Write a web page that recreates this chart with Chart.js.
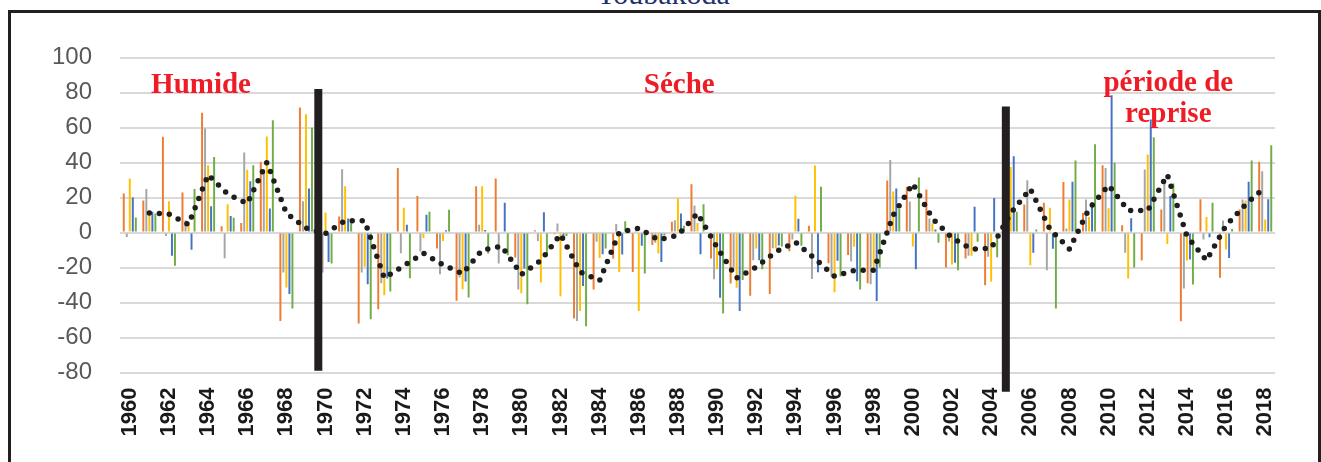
<!DOCTYPE html>
<html>
<head>
<meta charset="utf-8">
<script src="https://cdn.jsdelivr.net/npm/chart.js@4.4.0/dist/chart.umd.min.js"></script>
<style>
  html, body { margin: 0; padding: 0; background: #fff; overflow: hidden; }
  body { width: 1321px; height: 462px; position: relative; }
  #frame { position: absolute; left: 8px; top: 10px; width: 1307px; height: 520px; border: 3px solid #231f20; }
  #title { position: absolute; left: 3px; width: 1321px; top: -21px; text-align: center;
           font: 30px 'Liberation Serif', serif; line-height: 30px; color: #1f3070; }
  #wrap { position: absolute; left: 0; top: 0; width: 1321px; height: 462px; }
</style>
</head>
<body>
<div id="frame"></div>
<div id="title">Toubakoda</div>
<div id="wrap"><canvas id="chart" width="1321" height="462"></canvas></div>
<script>
// ── data ─────────────────────────────────────────────────────────────────────
const years = ["1960","1961","1962","1963","1964","1965","1966","1967","1968","1969",
               "1970","1971","1972","1973","1974","1975","1976","1977","1978","1979",
               "1980","1981","1982","1983","1984","1985","1986","1987","1988","1989",
               "1990","1991","1992","1993","1994","1995","1996","1997","1998","1999",
               "2000","2001","2002","2003","2004","2005","2006","2007","2008","2009",
               "2010","2011","2012","2013","2014","2015","2016","2017","2018"];

const orangeVals = [22.3,18.3,54.7,22.9,68.4,3.6,5.5,40.4,-50.5,71.4,
                    10,9.1,-52,-43.8,36.8,20.8,-9.1,-39,26.5,30.9,
                    -14.3,1.3,-1,-49.1,-32.6,-14.9,-22.5,-7.2,6.1,27.6,
                    -14.9,-29.1,-36.2,-35.2,-10.7,3.8,-17.5,-12.8,-29,29.7,
                    26.1,24.6,-20,-14.9,-30.1,20,16,17,28.8,11.2,
                    38.5,4.2,-16,13.1,-50.7,19,-25.9,13.1,40.4];

const grayVals   = [-2.5,24.8,-2,7,59.4,-14.7,45.7,36,-22.9,17.9,
                    -22.9,36.2,-22.9,-29,-11.8,-10.9,-23.8,-25.7,4.4,-17.7,
                    -32.6,-4.8,5.1,-50.5,-5.3,4.8,1,-5.9,7,15.4,
                    -26.7,-20,-15.8,-9,-4,-26.5,-25.1,-16.6,-29.5,41.5,
                    17.7,8,-5.1,-13.3,-13.9,15,29.9,-21.5,2.3,18.9,
                    36.8,-11.6,36,30.3,-32,-4,6.9,18.9,35];

const yellowVals = [30.9,10,17.9,5.5,38.5,16.2,35.8,54.9,-31.4,67.6,
                    11.4,26.5,-19.6,-35.8,14.1,-3.2,-4.8,-32.4,26.5,0.6,
                    -34.7,-28.6,-36.4,-44.8,-14.5,-22.5,-44.8,-12,19.6,5.5,
                    -21,-31.6,-9.1,-9,21,38.3,-34.1,-8.2,-22.7,23.4,
                    -8,5.3,-18.3,-13.3,-28.2,37.5,-18.7,14.1,18.9,8.8,
                    13.9,-26.3,44.6,-6.5,-16,8.8,-9.7,18.3,7.4];

const blueVals   = [20,11.8,-13.3,-9.9,15,9.5,29.3,13.7,-35.2,25.1,
                    -16.8,8,-29.5,-26.3,4.4,10.1,1.3,-28,1.5,17,
                    -20.6,11.6,-3,-30.5,-12.4,-12.6,-7.6,-16.8,10.9,-12.4,
                    -37.3,-44.8,-15.8,-7.4,7.8,-22.7,-16.2,-27.8,-39.2,25.1,
                    -21,1.7,-17.3,14.7,19.7,43.6,-11.6,-9.3,29,17.3,
                    78.5,8.2,64.6,20.8,-15.4,-2.7,-14.5,29,19];

const greenVals  = [8.6,10.9,-19,24.8,43.2,8.4,38.5,64.2,-43.4,59.8,
                    -17.7,6.7,-49.5,-33.7,-26.1,11.8,13,-37.1,-12,-13,
                    -41,-13.3,-2,-53.5,-9.1,6.5,-23.4,-1.5,3.8,16.2,
                    -46.3,-27.2,-21,-8,-7.6,26.1,-25.1,-32.6,-20,13.5,
                    31.4,-5.9,-21.5,-5.3,-14.2,11.8,1.7,-43.4,41.1,50.5,
                    39.8,-20,54.5,28,-29.7,17,2,41.1,49.9];

// moyenne mobile (pointillé)
const trendVals  = [null,11.2,10.5,4.5,33,22,16.5,40,11,2.5,
                    -0.6,6.7,6.7,-26,-19,-11.8,-18.5,-23.5,-10,-7.8,
                    -24,-16,-1,-22.5,-27.5,0,2.5,-4.2,-1.6,11,
                    -8.5,-26,-19.8,-11,-5.5,-15,-25,-21.7,-21.5,10,
                    28,8,-3,-9.5,-9,11,25,2,-9.5,13.5,
                    27,12.6,12.6,33,-2,-16,4,16,26];

const yTicks = [-80,-60,-40,-20,0,20,40,60,80,100];

// séparations des périodes (année, haut, bas)
const breakYears  = [1969.63, 2004.75];
const breakTop    = [82, 72];
const breakBottom = [-79, -91];

const periodText      = ["Humide", "Séche", "période de", "reprise"];
const periodTextYear  = [1963.64, 1988.07, 2013.05, 2013.05];
const periodTextValue = [79.7, 79.7, 80.9, 63.4];

const firstYear = 1960;

// ── chart ────────────────────────────────────────────────────────────────────
Chart.defaults.font.family = "'Liberation Sans', Arial, sans-serif";

const periodMarks = {
  id: "periodMarks",
  afterDatasetsDraw(chart) {
    const { ctx, scales: { x, y } } = chart;
    ctx.save();
    ctx.fillStyle = "#231f20";
    breakYears.forEach((yr, i) => {
      const px  = x.getPixelForValue(yr - firstYear);
      const top = y.getPixelForValue(breakTop[i]);
      const bot = y.getPixelForValue(breakBottom[i]);
      ctx.fillRect(px - 4, top, 8, bot - top);
    });
    ctx.font = "bold 29px 'Liberation Serif', 'Times New Roman', serif";
    ctx.fillStyle = "#ee1c25";
    ctx.textAlign = "center";
    ctx.textBaseline = "alphabetic";
    periodText.forEach((t, i) => {
      ctx.fillText(t, x.getPixelForValue(periodTextYear[i] - firstYear), y.getPixelForValue(periodTextValue[i]));
    });
    ctx.restore();
  }
};

const barDs = (label, data, color) => ({
  type: "bar", label, data, backgroundColor: color, borderWidth: 0,
  categoryPercentage: 0.77, barPercentage: 0.65, order: 1,
});

new Chart(document.getElementById("chart"), {
  data: {
    labels: years,
    datasets: [
      {
        type: "line", label: "Moyenne mobile", data: trendVals,
        borderColor: "#1e1e1e", borderWidth: 5.5, borderDash: [0, 10], borderCapStyle: "round",
        pointRadius: 0, tension: 0, fill: false, order: 0,
      },
      barDs("S1", orangeVals, "#ed7d31"),
      barDs("S2", grayVals,   "#a5a5a5"),
      barDs("S3", yellowVals, "#ffc000"),
      barDs("S4", blueVals,   "#4472c4"),
      barDs("S5", greenVals,  "#70ad47"),
    ],
  },
  options: {
    responsive: false,
    animation: false,
    layout: { padding: { top: 57.5, right: 46, left: 0, bottom: 0 } },
    plugins: { legend: { display: false }, tooltip: { enabled: false }, title: { display: false } },
    scales: {
      x: {
        offset: true,
        grid: { display: false, drawTicks: false },
        border: { display: false },
        ticks: {
          autoSkip: false, minRotation: 90, maxRotation: 90, padding: 15,
          color: "#1a1a1a", font: { size: 22, weight: "bold" },
          callback: (v, i) => (i % 2 === 0 ? years[i] : ""),
        },
        afterFit: (s) => { s.height = 89.5; },
      },
      y: {
        min: -80, max: 100,
        afterBuildTicks: (s) => { s.ticks = yTicks.map(v => ({ value: v })); },
        grid: { color: "#d9d9d9", lineWidth: 2, drawTicks: false },
        border: { display: false },
        ticks: { padding: 28, color: "#595959", font: { size: 24 } },
        afterFit: (s) => { s.width = 120; },
      },
    },
  },
  plugins: [periodMarks],
});
</script>
</body>
</html>
